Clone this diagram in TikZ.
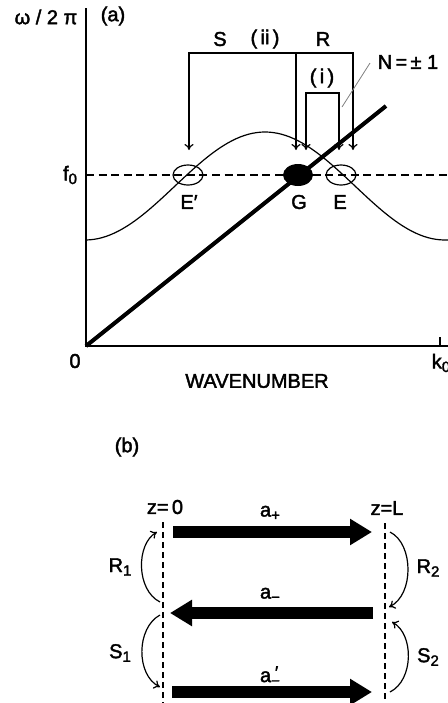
\documentclass[tikz,border=0pt]{standalone}
\usepackage{fontspec}
\setmainfont{Liberation Sans}
\newfontfamily\labfont[FakeBold=2]{Liberation Sans}
\usetikzlibrary{arrows.meta,positioning}
\newcommand\lowr[1]{\raisebox{-0.35ex}{\fontsize{7.5}{8}\selectfont #1}}

\begin{document}
\begin{tikzpicture}[x=0.5pt, y=-0.5pt, >={To[length=3pt,width=4.5pt]},
  every node/.style={font=\labfont\fontsize{10}{11}\selectfont, inner sep=0pt},
  beam/.style={line width=6pt, -{Triangle[length=11pt,width=12.5pt]}},
  mirror/.style={semithick, dash pattern=on 3pt off 2pt},
  hop/.style={semithick, ->}]
  \useasboundingbox (0,0) rectangle (448,703);

  % (a) dispersion curves
  \begin{scope}
    \draw[semithick] (86,8) -- (86,346) -- (448,346);
    \draw[semithick] (440,346) -- (440,337);
    \node (yl) at (46,17) {ω / 2 π};
    \node (pa) at (113,16) {(a)};
    \node (f0) at (70,175) {f\lowr{0}};
    \node (zero) at (75,361) {0};
    \node (k0) at (441,363) {k\lowr{0}};
    \node (xl) at (257,381) {WAVENUMBER};

    \draw[semithick, dash pattern=on 4pt off 2.3pt] (86,175) -- (448,175);
    \draw[semithick] plot[domain=86:448, samples=90] (\x, {186-54*cos(\x-265)});
    \draw[line width=2pt] (86,346) -- (386,106);

    \draw[semithick] (188,175) ellipse [x radius=7.5pt, y radius=5pt];
    \fill (298,175) ellipse [x radius=7.5pt, y radius=5.5pt];
    \draw[semithick] (341,175) ellipse [x radius=7.5pt, y radius=5pt];
    \node (Ep) at (189,202) {E′};
    \node (G) at (299,202) {G};
    \node (E) at (340,202) {E};

    % transitions
    \draw[hop, <->] (189,150) -- (189,53) -- (353,53) -- (353,150);
    \draw[hop] (296,53) -- (296,150);
    \draw[hop, <->] (306,150) -- (306,93) -- (339,93) -- (339,150);
    \node (S) at (220,39) {S};
    \node (ii) at (265,39) {(\,ii\,)};
    \node (R) at (323,39) {R};
    \node (i) at (322,78) {(\,i\,)};
    \node (N) at (408,62) {N\,=\,±\;1};
    \draw[gray, thin] (370,63) -- (342,107);
  \end{scope}

  % (b) waves between the ends
  \begin{scope}
    \node (pb) at (127,447) {(b)};
    \node (z0) at (165,507) {z=\,0};
    \node (zL) at (387,508) {z=L};
    \draw[mirror] (163,522) -- (163,703);
    \draw[mirror] (385,523) -- (385,703);

    \draw[beam] (173,532) -- (372,532);
    \draw[beam] (373,613) -- (170,613);
    \draw[beam] (172,692) -- (372,692);
    \node (ap) at (270,513) {a\lowr{+}};
    \node (am) at (270,595) {a\lowr{−}};
    \node (amp) at (270,676) {a\lowr{\makebox[0pt][l]{\raisebox{0.9ex}{\kern0.25em\fontsize{9}{9}\selectfont ′}}−}};

    \draw[hop] (160,602) .. controls (136,590) and (136,544) .. (157,532);
    \draw[hop] (160,615) .. controls (136,628) and (136,675) .. (160,687);
    \draw[hop] (390,532) .. controls (414,544) and (414,595) .. (389,607);
    \draw[hop] (390,692) .. controls (414,680) and (414,634) .. (392,622);
    \node (R1) at (120,567) {R\lowr{1}};
    \node (S1) at (120,653) {S\lowr{1}};
    \node (R2) at (428,568) {R\lowr{2}};
    \node (S2) at (428,657) {S\lowr{2}};
  \end{scope}
\end{tikzpicture}
\end{document}
